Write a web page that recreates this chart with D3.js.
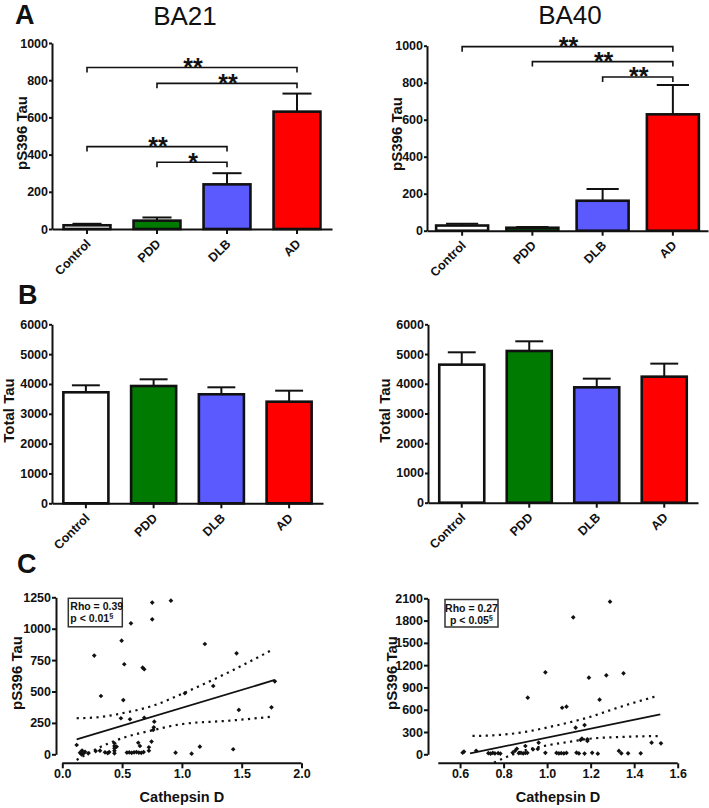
<!DOCTYPE html>
<html><head><meta charset="utf-8">
<script src="https://cdn.jsdelivr.net/npm/d3@7"></script>
<style>
body{margin:0;background:#fff}
svg{display:block}
text{font-family:"Liberation Sans",Arial,Helvetica,sans-serif}
</style>
</head><body>
<svg id="chart" width="709" height="808"></svg>
<script>
// ---------- DATA ----------
const groups = ["Control", "PDD", "DLB", "AD"];
const groupColors = ["#ffffff", "#007a00", "#5a5aff", "#ff0000"];

const ba21pTau = [20, 45, 240, 631];
const ba21pTauErr = [8, 17, 60, 97];
const ba40pTau = [28, 16, 162, 629];
const ba40pTauErr = [9, 4, 63, 159];

const ba21TotalTau = [3721, 3932, 3654, 3406];
const ba21TotalTauErr = [234, 224, 234, 369];
const ba40TotalTau = [4643, 5103, 3880, 4239];
const ba40TotalTauErr = [415, 325, 292, 438];

const pTauTicks = [0, 200, 400, 600, 800, 1000];
const totalTauTicks = [0, 1000, 2000, 3000, 4000, 5000, 6000];

// significance brackets: [fromGroup, toGroup, level, label]
const ba21Brackets = [[0, 3, 868, "**"], [1, 3, 783, "**"], [0, 2, 443, "**"], [1, 2, 359, "*"]];
const ba40Brackets = [[0, 3, 995, "**"], [1, 3, 914, "**"], [2, 3, 831, "**"]];

// scatter BA21: [cathepsin D, pS396 tau]
const ba21Scatter = [
  [0.752,1208],[0.908,1223],[0.752,1075],[0.574,1043],[0.496,905],[1.192,878],[0.267,786],[1.457,804],
  [0.518,717],[0.672,690],[0.685,677],[1.777,581],[1.262,544],[1.025,486],[0.323,464],[0.510,432],
  [1.749,374],[1.476,353],[0.685,291],[0.566,279],[0.490,287],[0.769,260],[0.760,194],[0.765,215],
  [0.746,101],[0.120,74],[0.148,13],[0.165,30],[0.175,5],[0.190,20],[0.160,0],[0.217,8],[0.279,26],
  [0.315,29],[0.357,16],[0.380,10],[0.392,18],[0.436,88],[0.436,66],[0.436,48],[0.436,29],[0.436,8],
  [0.454,61],[0.540,14],[0.560,15],[0.580,12],[0.600,16],[0.620,18],[0.635,92],[0.649,66],[0.640,14],
  [0.660,12],[0.680,18],[0.724,56],[0.724,29],[0.947,13],[1.081,5],[1.150,61],[1.429,40]
];
const ba21Fit = [[0.12,119],[1.777,592]];
const ba21Upper = [[0.12,287],[0.3,295],[0.496,326],[0.774,392],[1.011,486],[1.401,658],[1.763,836]];
const ba21Lower = [[0.12,-45],[0.3,50],[0.496,127],[0.76,193],[0.997,240],[1.401,268],[1.763,300]];
const ba21Stats = [["Rho = 0.39", ""], ["p < 0.01", "§"]];
const ba21XTicks = [0, 0.5, 1.0, 1.5, 2.0];
const ba21YTicks = [0, 250, 500, 750, 1000, 1250];

// scatter BA40
const ba40Scatter = [
  [1.289,2054],[1.120,1844],[0.992,1104],[1.192,1031],[1.272,1063],[1.351,1090],[0.911,762],[1.241,735],
  [1.069,627],[1.089,641],[1.131,358],[1.172,394],[1.154,193],[1.160,210],[1.185,202],[1.185,180],
  [0.961,157],[0.900,112],[1.480,157],[1.523,148],
  [0.612,22],[0.618,35],[0.674,48],[0.730,15],[0.740,10],[0.750,18],[0.760,12],[0.775,15],[0.785,10],
  [0.842,22],[0.853,48],[0.861,75],[0.870,15],[0.880,20],[0.890,12],[0.900,18],[0.909,20],[0.935,67],
  [0.957,72],[0.992,20],[1.043,18],[1.054,12],[1.065,15],[1.077,12],[1.089,18],[1.135,22],[1.146,12],
  [1.172,10],[1.207,20],[1.233,8],[1.330,45],[1.341,13],[1.372,13],[1.430,13]
];
const ba40Fit = [[0.646,13],[1.520,538]];
const ba40Upper = [[0.657,247],[0.75,255],[0.877,291],[1.031,381],[1.185,493],[1.339,641],[1.506,785]];
const ba40Lower = [[0.756,-112],[0.877,35],[1.0,120],[1.108,170],[1.185,206],[1.35,235],[1.515,246]];
const ba40Stats = [["Rho = 0.27", ""], ["p < 0.05", "§"]];
const ba40XTicks = [0.6, 0.8, 1.0, 1.2, 1.4, 1.6];
const ba40YTicks = [0, 300, 600, 900, 1200, 1500, 1800, 2100];

// ---------- DRAW ----------
const svg = d3.select("#chart");
const FONT_BOLD = 700;

function styleAxis(g) {
  g.select(".domain").attr("stroke", "#111").attr("stroke-width", 2);
  g.selectAll(".tick line").attr("stroke", "#111").attr("stroke-width", 2);
  g.selectAll(".tick text").attr("font-size", 12.5).attr("font-weight", FONT_BOLD).attr("fill", "#111");
}

function barPanel(o) {
  const x = d3.scaleBand().domain(groups).range([o.x0, o.x1]).paddingInner(0).paddingOuter(0);
  const y = d3.scaleLinear().domain([0, o.max]).range([o.yb, o.yt]);
  const g = svg.append("g");
  const bw = x.bandwidth() * o.ratio;

  // bars
  g.selectAll("rect.bar").data(o.vals).enter().append("rect")
    .attr("x", (d, i) => x(groups[i]) + (x.bandwidth() - bw) / 2)
    .attr("y", d => y(d))
    .attr("width", bw)
    .attr("height", d => y(0) - y(d))
    .attr("fill", (d, i) => groupColors[i])
    .attr("stroke", "#111").attr("stroke-width", 2.6);

  // error bars (upper only)
  const cap = bw * 0.62;
  o.vals.forEach((v, i) => {
    const cx = x(groups[i]) + x.bandwidth() / 2;
    g.append("line").attr("x1", cx).attr("x2", cx).attr("y1", y(v)).attr("y2", y(v + o.errs[i]))
      .attr("stroke", "#111").attr("stroke-width", 2);
    g.append("line").attr("x1", cx - cap / 2).attr("x2", cx + cap / 2)
      .attr("y1", y(v + o.errs[i])).attr("y2", y(v + o.errs[i]))
      .attr("stroke", "#111").attr("stroke-width", 2);
  });

  // axes
  const ya = g.append("g").attr("transform", `translate(${o.x0},0)`)
    .call(d3.axisLeft(y).tickValues(o.ticks).tickSize(3).tickSizeOuter(0).tickPadding(1).tickFormat(d3.format("d")));
  styleAxis(ya);
  const xa = g.append("g").attr("transform", `translate(0,${y(0)})`)
    .call(d3.axisBottom(x).tickSize(5).tickSizeOuter(0));
  styleAxis(xa);
  xa.selectAll(".tick text")
    .attr("x", 0).attr("y", 0).attr("dy", 0)
    .attr("text-anchor", "end")
    .attr("transform", "translate(4.5,15.5) rotate(-45)");

  // y label
  g.append("text").attr("transform", `translate(${o.lx},${o.ly}) rotate(-90)`)
    .attr("text-anchor", "middle").attr("font-size", 15).attr("font-weight", FONT_BOLD)
    .attr("fill", "#111").text(o.ylabel);

  // brackets
  (o.brackets || []).forEach(b => {
    const xa1 = x(groups[b[0]]) + x.bandwidth() / 2;
    const xa2 = x(groups[b[1]]) + x.bandwidth() / 2;
    const yy = y(b[2]);
    g.append("path").attr("d", `M${xa1},${yy + 5}V${yy}H${xa2}V${yy + 5}`)
      .attr("fill", "none").attr("stroke", "#111").attr("stroke-width", 1.6);
    g.append("text").attr("x", (xa1 + xa2) / 2 + 1).attr("y", yy + 8.5)
      .attr("text-anchor", "middle").attr("font-size", 25).attr("font-weight", FONT_BOLD)
      .attr("fill", "#111").text(b[3]);
  });
}

function scatterPanel(o) {
  const x = d3.scaleLinear().domain(o.xd).range(o.xr);
  const y = d3.scaleLinear().domain(o.yd).range([o.yb, o.yt]);
  const g = svg.append("g");

  // y axis
  const ya = g.append("g").attr("transform", `translate(${o.yax},0)`)
    .call(d3.axisLeft(y).tickValues(o.yticks).tickSize(4).tickSizeOuter(0).tickPadding(1).tickFormat(d3.format("d")));
  styleAxis(ya);
  // x axis
  const xa = g.append("g").attr("transform", `translate(0,${o.xay})`)
    .call(d3.axisBottom(x).tickValues(o.xticks).tickSize(5).tickSizeOuter(0).tickFormat(d3.format(".1f")));
  styleAxis(xa);
  xa.selectAll(".tick text").attr("y", 15).attr("dy", 0);
  xa.select(".domain").attr("d", `M${o.xr[0]},0H${o.xr[1]}`);

  // points
  const sym = d3.symbol().type(d3.symbolSquare).size(11);
  g.selectAll("path.pt").data(o.pts).enter().append("path")
    .attr("d", sym)
    .attr("transform", d => `translate(${x(d[0])},${y(Math.max(d[1], 0))}) rotate(45)`)
    .attr("fill", "#111");

  // fit + bands
  const line = d3.line().x(d => x(d[0])).y(d => y(d[1]));
  const curve = d3.line().x(d => x(d[0])).y(d => y(d[1])).curve(d3.curveMonotoneX);
  g.append("path").attr("d", line(o.fit)).attr("fill", "none").attr("stroke", "#111").attr("stroke-width", 1.8);
  [o.upper, o.lower].forEach(b => {
    g.append("path").attr("d", curve(b)).attr("fill", "none").attr("stroke", "#111")
      .attr("stroke-width", 2.2).attr("stroke-dasharray", "2.2,4.4");
  });

  // stats box
  g.append("rect").attr("x", o.box[0]).attr("y", o.box[1]).attr("width", o.box[2]).attr("height", o.box[3])
    .attr("fill", "#fff").attr("stroke", "#333").attr("stroke-width", 1.5);
  o.stats.forEach((s, i) => {
    const t = g.append("text").attr("x", o.boxAnchor === "middle" ? o.box[0] + o.box[2] / 2 : o.box[0] + 2)
      .attr("y", o.box[1] + 12 + i * 12)
      .attr("text-anchor", o.boxAnchor).attr("font-size", 10.5).attr("font-weight", FONT_BOLD)
      .attr("fill", "#111");
    t.append("tspan").text(s[0]);
    if (s[1]) t.append("tspan").attr("font-size", 7.5).attr("dy", -4).text(s[1]);
  });

  // labels
  g.append("text").attr("transform", `translate(${o.lx},${o.ly}) rotate(-90)`)
    .attr("text-anchor", "middle").attr("font-size", 15).attr("font-weight", FONT_BOLD)
    .attr("fill", "#111").text("pS396 Tau");
  g.append("text").attr("x", (o.xr[0] + o.xr[1]) / 2).attr("y", 802)
    .attr("text-anchor", "middle").attr("font-size", 14.5).attr("font-weight", FONT_BOLD)
    .attr("fill", "#111").text("Cathepsin D");
}

// Panel letters and titles
[["A", 15, 24], ["B", 18, 304], ["C", 17, 573]].forEach(t =>
  svg.append("text").attr("x", t[1]).attr("y", t[2]).attr("font-size", 27).attr("font-weight", 900)
    .attr("fill", "#111").text(t[0]));
[["BA21", 185, 25], ["BA40", 570, 24]].forEach(t =>
  svg.append("text").attr("x", t[1]).attr("y", t[2]).attr("text-anchor", "middle")
    .attr("font-size", 26).attr("fill", "#111").text(t[0]));

barPanel({x0: 52, x1: 332, yb: 229, yt: 43, max: 1000, ticks: pTauTicks, vals: ba21pTau, errs: ba21pTauErr,
  ratio: 0.67, ylabel: "pS396 Tau", lx: 27, ly: 133, brackets: ba21Brackets});
barPanel({x0: 427, x1: 708, yb: 230.7, yt: 45.7, max: 1000, ticks: pTauTicks, vals: ba40pTau, errs: ba40pTauErr,
  ratio: 0.74, ylabel: "pS396 Tau", lx: 402, ly: 134, brackets: ba40Brackets});
barPanel({x0: 52, x1: 323, yb: 503.3, yt: 324.3, max: 6000, ticks: totalTauTicks, vals: ba21TotalTau, errs: ba21TotalTauErr,
  ratio: 0.665, ylabel: "Total Tau", lx: 13.5, ly: 410.5});
barPanel({x0: 428, x1: 698, yb: 502.7, yt: 324.3, max: 6000, ticks: totalTauTicks, vals: ba40TotalTau, errs: ba40TotalTauErr,
  ratio: 0.667, ylabel: "Total Tau", lx: 389.5, ly: 410.5});

scatterPanel({xd: [0, 2], xr: [62.3, 301.5], yd: [0, 1250], yb: 754.3, yt: 597.3, yax: 56, xay: 763.3,
  xticks: ba21XTicks, yticks: ba21YTicks, pts: ba21Scatter, fit: ba21Fit, upper: ba21Upper, lower: ba21Lower,
  stats: ba21Stats, box: [68.3, 598.3, 54, 28.5], boxAnchor: "start", lx: 22, ly: 673});
scatterPanel({xd: [0.5, 1.6], xr: [438.3, 677.7], yd: [0, 2100], yb: 754.3, yt: 598.3, yax: 428, xay: 763.3,
  xticks: ba40XTicks, yticks: ba40YTicks, pts: ba40Scatter, fit: ba40Fit, upper: ba40Upper, lower: ba40Lower,
  stats: ba40Stats, box: [445, 599.5, 53, 27.5], boxAnchor: "middle", lx: 397, ly: 673});
</script>
</body></html>
